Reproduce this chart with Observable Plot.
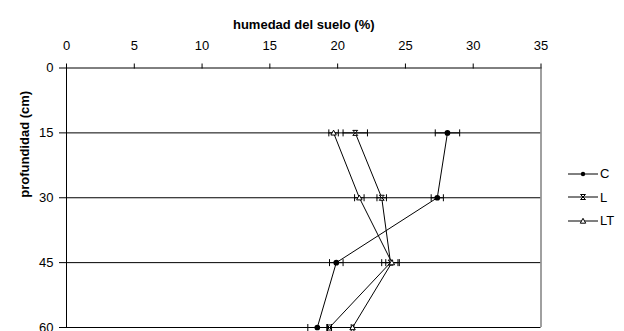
<!DOCTYPE html>
<html>
<head>
<meta charset="utf-8">
<script src="https://cdn.jsdelivr.net/npm/d3@7"></script>
<script src="https://cdn.jsdelivr.net/npm/@observablehq/plot@0.6"></script>
<style>
  html, body { margin: 0; padding: 0; background: white; }
  #wrap { position: relative; width: 624px; height: 331px; overflow: hidden; font-family: "Liberation Sans", Arial, sans-serif; }
  #legend { position: absolute; left: 568px; top: 162px; font-size: 13px; color: black; }
  .item { display: flex; align-items: center; height: 23.5px; }
  .item svg { display: block; margin-right: 2px; }
</style>
</head>
<body>
<div id="wrap"><div id="legend"></div></div>
<script>
// ---- data ----
const depths = [15, 30, 45, 60];
const depthTicks = [0, 15, 30, 45, 60];
const xTicks = [0, 5, 10, 15, 20, 25, 30, 35];
const seriesNames = ["C", "L", "LT"];
const valuesC  = [28.1, 27.35, 19.9, 18.5];
const errC     = [0.9, 0.45, 0.5, 0.7];
const valuesL  = [21.3, 23.25, 23.9, 19.4];
const errL     = [0.9, 0.35, 0.65, 0.15];
const valuesLT = [19.7, 21.6, 24.0, 21.1];
const errLT    = [0.35, 0.35, 0.45, 0.1];
const xTitle = "humedad del suelo (%)";
const yTitle = "profundidad (cm)";

const valuesBy = {C: valuesC, L: valuesL, LT: valuesLT};
const errBy = {C: errC, L: errL, LT: errLT};
const data = seriesNames.flatMap(s => depths.map((d, i) => ({
  series: s, depth: d, value: valuesBy[s][i], err: errBy[s][i],
  lo: valuesBy[s][i] - errBy[s][i], hi: valuesBy[s][i] + errBy[s][i]
})));

// custom symbols
const vbar = {draw(ctx, size) { const h = Math.sqrt(size / Math.PI); ctx.moveTo(0, -h); ctx.lineTo(0, h); }};
const hourglass = {draw(ctx, size) { const r = Math.sqrt(size / Math.PI);
  ctx.moveTo(-r, -r); ctx.lineTo(r, -r); ctx.lineTo(-r, r); ctx.lineTo(r, r); ctx.closePath(); }};
const tri = {draw(ctx, size) { const r = Math.sqrt(size / Math.PI);
  ctx.moveTo(0, -r); ctx.lineTo(r, r * 0.8); ctx.lineTo(-r, r * 0.8); ctx.closePath(); }};

const chart = Plot.plot({
  width: 624, height: 331,
  marginTop: 67.5, marginBottom: 4, marginLeft: 66, marginRight: 83.5,
  style: {fontFamily: "'Liberation Sans', Arial, sans-serif", fontSize: "13px", background: "white", color: "black"},
  x: {domain: [0, 35]},
  y: {domain: [0, 60], reverse: true},
  marks: [
    Plot.ruleY(depths, {stroke: "black"}),
    Plot.ruleY([0], {stroke: "black"}),
    Plot.ruleX([0], {stroke: "black"}),
    Plot.ruleX([35], {stroke: "#808080", strokeWidth: 1.5}),
    Plot.axisX({anchor: "top", ticks: xTicks, tickSize: 5, tickPadding: 13, label: null, fontSize: 13}),
    Plot.axisY({anchor: "left", ticks: depthTicks, tickSize: 7, tickPadding: 6, label: null, fontSize: 13}),
    Plot.text([xTitle], {frameAnchor: "top", dy: -48.5, fontWeight: "bold", fontSize: 13}),
    Plot.text([yTitle], {frameAnchor: "left", dx: -42, rotate: -90, fontWeight: "bold", fontSize: 13}),
    // error bars
    Plot.ruleY(data, {y: "depth", x1: "lo", x2: "hi", stroke: "black"}),
    Plot.dot(data, {x: "lo", y: "depth", r: 3.5, symbol: vbar, stroke: "black", strokeWidth: 1}),
    Plot.dot(data, {x: "hi", y: "depth", r: 3.5, symbol: vbar, stroke: "black", strokeWidth: 1}),
    // lines
    Plot.line(data, {x: "value", y: "depth", z: "series", stroke: "black", strokeWidth: 1}),
    // markers
    Plot.dot(data.filter(d => d.series === "C"), {x: "value", y: "depth", r: 2.1, fill: "black", stroke: "black"}),
    Plot.dot(data.filter(d => d.series === "L"), {x: "value", y: "depth", r: 2.5, symbol: hourglass, fill: "white", stroke: "black", strokeWidth: 1}),
    Plot.dot(data.filter(d => d.series === "LT"), {x: "value", y: "depth", r: 2.7, symbol: tri, fill: "white", stroke: "black", strokeWidth: 1})
  ]
});
const wrap = document.getElementById("wrap");
wrap.insertBefore(chart, wrap.firstChild);

// legend
const legend = document.getElementById("legend");
const swatchShapes = {
  C: '<circle cx="15" cy="5" r="2.2" fill="black"/>',
  L: '<path d="M12.5,2.5H17.5L12.5,7.5H17.5Z" fill="white" stroke="black"/>',
  LT: '<path d="M15,2.3L17.7,7.2H12.3Z" fill="white" stroke="black"/>'
};
seriesNames.forEach(s => {
  const item = document.createElement("div");
  item.className = "item";
  item.innerHTML = `<svg width="30" height="10"><line x1="0" x2="30" y1="5" y2="5" stroke="black"/>${swatchShapes[s]}</svg><span>${s}</span>`;
  legend.appendChild(item);
});
</script>
</body>
</html>
